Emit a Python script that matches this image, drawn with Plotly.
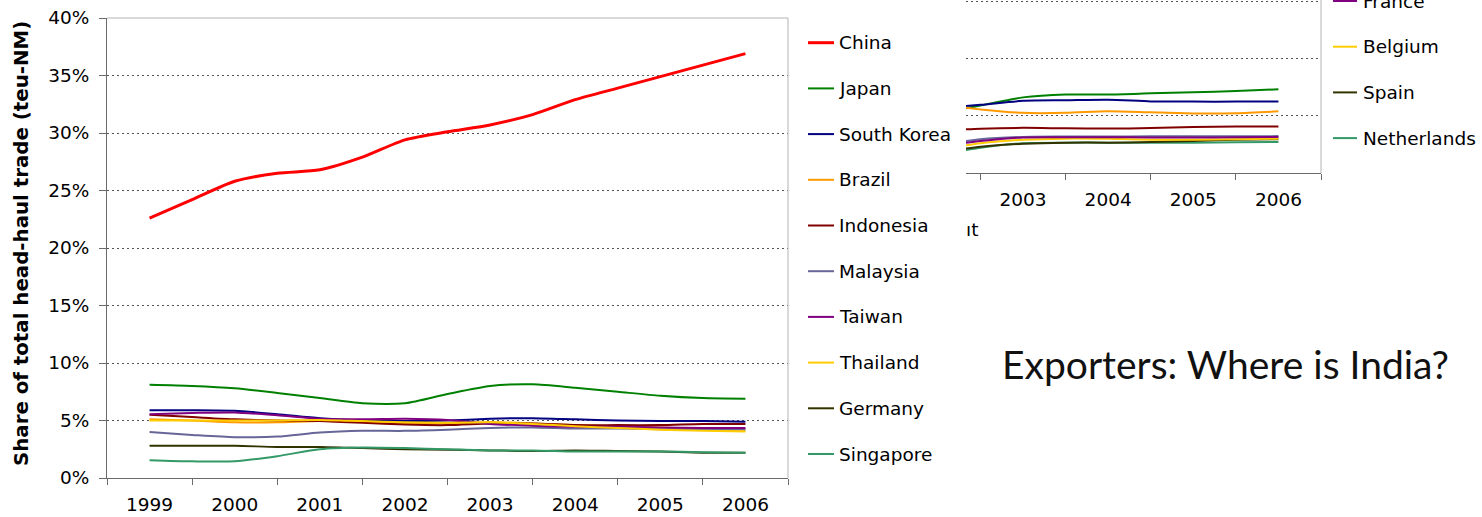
import plotly.graph_objects as go

W, H = 1482, 517

# ---------------- data (share of total head-haul trade, %) ----------------
years = [1999.0, 1999.5, 2000.0, 2000.5, 2001.0, 2001.5, 2002.0, 2002.5,
         2003.0, 2003.5, 2004.0, 2004.5, 2005.0, 2005.5, 2006.0]
year_labels = ["1999", "2000", "2001", "2002", "2003", "2004", "2005", "2006"]

china = [22.6, 24.2, 25.8, 26.5, 26.8, 27.9, 29.4, 30.1, 30.7, 31.6, 32.9, 33.9, 34.9, 35.9, 36.9]
japan = [8.1, 8.0, 7.8, 7.4, 6.95, 6.5, 6.5, 7.3, 8.0, 8.15, 7.85, 7.5, 7.15, 6.95, 6.9]
south_korea = [5.9, 5.9, 5.85, 5.55, 5.2, 5.0, 4.95, 5.0, 5.15, 5.2, 5.1, 5.0, 4.95, 4.95, 4.9]
brazil = [5.1, 5.0, 4.85, 4.85, 4.95, 4.9, 4.75, 4.75, 4.85, 4.75, 4.6, 4.5, 4.4, 4.25, 4.2]
indonesia = [5.5, 5.3, 5.1, 5.0, 4.95, 4.8, 4.65, 4.6, 4.75, 4.75, 4.6, 4.6, 4.6, 4.7, 4.7]
malaysia = [4.0, 3.75, 3.55, 3.6, 3.95, 4.1, 4.1, 4.2, 4.35, 4.4, 4.3, 4.3, 4.25, 4.25, 4.25]
taiwan = [5.55, 5.65, 5.7, 5.45, 5.15, 5.1, 5.15, 5.05, 4.7, 4.55, 4.45, 4.45, 4.4, 4.35, 4.35]
thailand = [5.0, 5.0, 5.0, 5.0, 5.05, 4.95, 4.85, 4.8, 4.85, 4.7, 4.5, 4.35, 4.2, 4.1, 4.05]
germany = [2.8, 2.8, 2.8, 2.7, 2.7, 2.6, 2.5, 2.45, 2.4, 2.35, 2.4, 2.35, 2.3, 2.2, 2.2]
singapore = [1.55, 1.45, 1.45, 1.9, 2.5, 2.65, 2.6, 2.5, 2.4, 2.4, 2.3, 2.3, 2.3, 2.25, 2.2]

# second (partly hidden) chart
years_r = [2002.0, 2002.5, 2003.0, 2003.5, 2004.0, 2004.5, 2005.0, 2005.5, 2006.0]
year_labels_r = ["2003", "2004", "2005", "2006"]
japan_r = [5.2, 5.9, 6.6, 6.85, 6.85, 6.95, 7.05, 7.15, 7.3]
south_korea_r = [5.65, 5.95, 6.3, 6.35, 6.4, 6.25, 6.23, 6.23, 6.23]
brazil_r = [6.0, 5.55, 5.25, 5.25, 5.4, 5.3, 5.2, 5.22, 5.38]
indonesia_r = [3.7, 3.87, 3.94, 3.9, 3.88, 3.92, 4.02, 4.06, 4.06]
malaysia_r = [2.45, 2.95, 3.15, 3.18, 3.18, 3.2, 3.2, 3.2, 3.22]
france_r = [2.3, 2.8, 3.1, 3.12, 3.12, 3.1, 3.1, 3.12, 3.15]
belgium_r = [2.0, 2.6, 2.9, 3.0, 2.98, 2.9, 2.9, 2.95, 3.0]
spain_r = [1.8, 2.3, 2.55, 2.65, 2.65, 2.7, 2.8, 2.9, 2.95]
netherlands_r = [1.6, 2.2, 2.6, 2.65, 2.65, 2.65, 2.65, 2.68, 2.7]

# ---------------- styling ----------------
FONT = "DejaVu Sans, Verdana, sans-serif"
FS = 18.5
AXC = "#6a6a6a"
FRAMEC = "#b4b4b4"
GRIDC = "#555555"

def px(x):
    return x / W

def py(y):
    return 1 - y / H

left_series = [
    ("China", china, "#FF0000", 3),
    ("Japan", japan, "#008000", 2),
    ("South Korea", south_korea, "#000080", 2),
    ("Brazil", brazil, "#FF9900", 2),
    ("Indonesia", indonesia, "#800000", 2),
    ("Malaysia", malaysia, "#666699", 2),
    ("Taiwan", taiwan, "#800080", 2),
    ("Thailand", thailand, "#FFCC00", 2),
    ("Germany", germany, "#333300", 2),
    ("Singapore", singapore, "#339966", 2),
]

right_series = [
    ("Japan", japan_r, "#008000"),
    ("South Korea", south_korea_r, "#000080"),
    ("Brazil", brazil_r, "#FF9900"),
    ("Indonesia", indonesia_r, "#800000"),
    ("Malaysia", malaysia_r, "#666699"),
    ("Netherlands", netherlands_r, "#339966"),
    ("Spain", spain_r, "#333300"),
    ("Belgium", belgium_r, "#FFCC00"),
    ("France", france_r, "#800080"),
]
right_legend = [("France", "#800080"), ("Belgium", "#FFCC00"),
                ("Spain", "#333300"), ("Netherlands", "#339966")]

fig = go.Figure()

for name, vals, col, w in left_series:
    fig.add_trace(go.Scatter(x=years, y=vals, name=name, mode="lines",
                             line=dict(color=col, width=w, shape="spline", smoothing=0.7),
                             xaxis="x", yaxis="y", showlegend=False, hoverinfo="x+y+name"))

for name, vals, col in right_series:
    fig.add_trace(go.Scatter(x=years_r, y=vals, name=name, mode="lines",
                             line=dict(color=col, width=2, shape="spline", smoothing=0.7),
                             xaxis="x2", yaxis="y2", showlegend=False, hoverinfo="x+y+name"))

shapes = []
annotations = []

# frames (top/right light grey borders)
shapes.append(dict(type="line", xref="paper", yref="paper", x0=px(107), x1=px(788), y0=py(18), y1=py(18),
                   line=dict(color=FRAMEC, width=1), layer="above"))
shapes.append(dict(type="line", xref="paper", yref="paper", x0=px(788), x1=px(788), y0=py(18), y1=py(478),
                   line=dict(color=FRAMEC, width=1), layer="above"))
shapes.append(dict(type="line", xref="paper", yref="paper", x0=px(1321), x1=px(1321), y0=py(-2), y1=py(173),
                   line=dict(color=FRAMEC, width=1), layer="above"))

# manual legend, left chart
for i, (name, vals, col, w) in enumerate(left_series):
    yc = 42.7 + i * 45.7
    shapes.append(dict(type="line", xref="paper", yref="paper", x0=px(808), x1=px(834), y0=py(yc), y1=py(yc),
                       line=dict(color=col, width=w)))
    annotations.append(dict(text=name, x=px(837), y=py(yc), xref="paper", yref="paper",
                            xanchor="left", yanchor="middle", showarrow=False,
                            font=dict(family=FONT, size=FS, color="black")))

# manual legend, right chart (partly cut by the page top)
for i, (name, col) in enumerate(right_legend):
    yc = 1.0 + i * 45.7
    shapes.append(dict(type="line", xref="paper", yref="paper", x0=px(1333), x1=px(1357), y0=py(yc), y1=py(yc),
                       line=dict(color=col, width=2)))
    annotations.append(dict(text=name, x=px(1361), y=py(yc), xref="paper", yref="paper",
                            xanchor="left", yanchor="middle", showarrow=False,
                            font=dict(family=FONT, size=FS, color="black")))

# y axis title
annotations.append(dict(text="<b>Share of total head-haul trade (teu-NM)</b>", x=px(21), y=py(244),
                        xref="paper", yref="paper", xanchor="center", yanchor="middle",
                        textangle=-90, showarrow=False,
                        font=dict(family=FONT, size=19.8, color="black")))

# fragment of hidden axis title of the second chart
annotations.append(dict(text="ıt", x=px(964), y=py(229), xref="paper", yref="paper",
                        xanchor="left", yanchor="middle", showarrow=False,
                        font=dict(family=FONT, size=FS, color="black")))

# slide text
annotations.append(dict(text="Exporters: Where is India?", x=px(1000), y=py(364), xref="paper", yref="paper",
                        xanchor="left", yanchor="middle", showarrow=False,
                        font=dict(family="Lato, sans-serif", size=39, color="#111111")))

tickfont = dict(family=FONT, size=FS, color="black")

fig.update_layout(
    width=W, height=H, autosize=False,
    margin=dict(l=0, r=0, t=0, b=0, pad=0, autoexpand=False),
    paper_bgcolor="white", plot_bgcolor="rgba(0,0,0,0)",
    showlegend=False,
    shapes=shapes, annotations=annotations,
    xaxis=dict(domain=[px(107), px(788)], range=[1998.5, 2006.5], anchor="y",
               tickmode="array", tickvals=[1999, 2000, 2001, 2002, 2003, 2004, 2005, 2006],
               ticktext=year_labels, ticks="outside", ticklen=4, tickcolor="rgba(0,0,0,0)",
               ticklabelstandoff=6, automargin=False,
               minor=dict(tickmode="array", tickvals=[1998.5, 1999.5, 2000.5, 2001.5, 2002.5, 2003.5, 2004.5, 2005.5, 2006.5],
                          ticks="outside", ticklen=6, tickcolor=AXC, tickwidth=1, showgrid=False),
               showline=True, linecolor=AXC, linewidth=1, showgrid=False, zeroline=False,
               tickfont=tickfont, fixedrange=True),
    yaxis=dict(domain=[py(478), py(18)], range=[0, 40], anchor="x",
               tickmode="array", tickvals=[0, 5, 10, 15, 20, 25, 30, 35, 40],
               ticktext=["0%", "5%", "10%", "15%", "20%", "25%", "30%", "35%", "40%"],
               ticks="outside", ticklen=7, tickcolor=AXC, ticklabelstandoff=6, automargin=False,
               showline=True, linecolor=AXC, linewidth=1,
               showgrid=False,
               minor=dict(tickmode="array", tickvals=[5, 10, 15, 20, 25, 30, 35], ticks="",
                          showgrid=True, gridcolor=GRIDC, gridwidth=1, griddash="2px,3px"),
               zeroline=False, tickfont=tickfont, fixedrange=True),
    xaxis2=dict(domain=[px(966), px(1321)], range=[2002.33, 2006.5], anchor="y2",
                tickmode="array", tickvals=[2003, 2004, 2005, 2006], ticktext=year_labels_r,
                ticks="outside", ticklen=4, tickcolor="rgba(0,0,0,0)", ticklabelstandoff=6,
                automargin=False,
                minor=dict(tickmode="array", tickvals=[2002.5, 2003.5, 2004.5, 2005.5, 2006.5],
                           ticks="outside", ticklen=6, tickcolor=AXC, tickwidth=1, showgrid=False),
                showline=True, linecolor=AXC, linewidth=1, showgrid=False, zeroline=False,
                tickfont=tickfont, fixedrange=True),
    yaxis2=dict(domain=[py(173), 1.0], range=[0, 15.1], anchor="x2",
                tickmode="array", tickvals=[5, 10, 15], showticklabels=False, ticks="",
                showline=False, showgrid=True, gridcolor=GRIDC, gridwidth=1, griddash="2px,3px",
                zeroline=False, fixedrange=True, automargin=False),
)

fig.write_html("out.html", include_plotlyjs=True, config={"displayModeBar": False},
               post_script="document.body.style.margin='0';document.body.style.overflow='hidden';")
